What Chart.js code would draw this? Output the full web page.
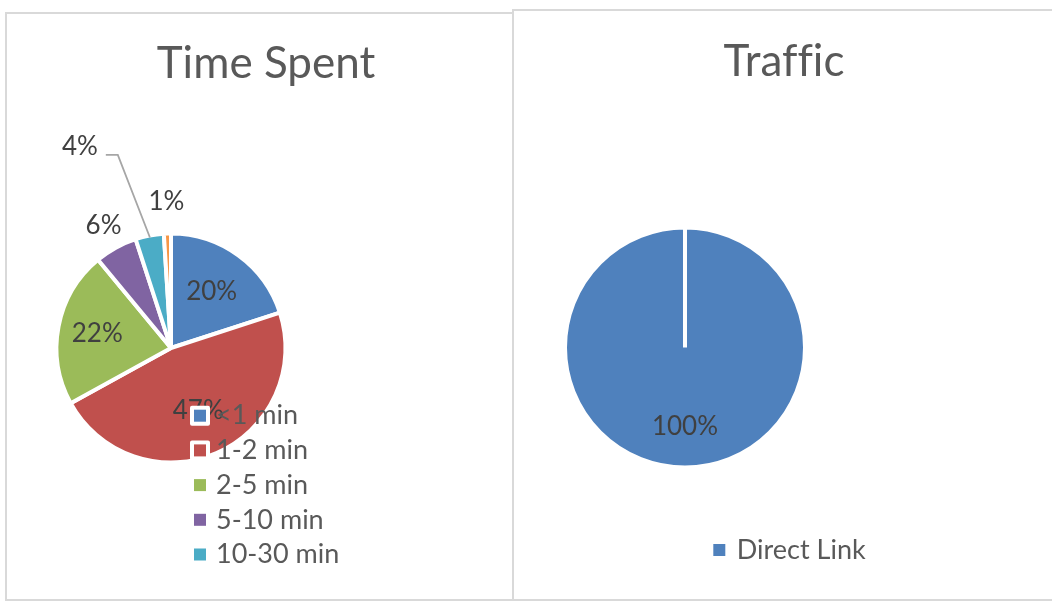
<!DOCTYPE html>
<html>
<head>
<meta charset="utf-8">
<script src="https://cdn.jsdelivr.net/npm/chart.js@4.4.0/dist/chart.umd.min.js"></script>
<style>
  html, body { margin: 0; padding: 0; background: #fff; }
  body { width: 1052px; height: 602px; position: relative; overflow: hidden; }
  .panel { position: absolute; border: 2px solid #d9d9d9; box-sizing: border-box; background: #fff; }
  #trafficPanel { left: 512px; top: 9px; width: 545px; height: 592px; }
  #timePanel { left: 5px; top: 12px; width: 509px; height: 589px; }
  .panel canvas { position: absolute; left: 0; top: 0; }
</style>
</head>
<body>
<div class="panel" id="trafficPanel"><canvas id="trafficCanvas" width="538" height="588"></canvas></div>
<div class="panel" id="timePanel"><canvas id="timeCanvas" width="505" height="585"></canvas></div>

<script>
// Time Spent
const timeLabels = ['<1 min', '1-2 min', '2-5 min', '5-10 min', '10-30 min', '>30 min'];
const timeValues = [20, 47, 22, 6, 4, 1];
const timeColors = ['#4f81bd', '#c0504d', '#9bbb59', '#8064a2', '#4bacc6', '#f79646'];

// Traffic
const trafficLabels = ['Direct Link'];
const trafficValues = [100];
const trafficColors = ['#4f81bd'];

const FONT = 'Lato, "Open Sans", sans-serif';

// labels, title and legend drawn the Excel way (legend may sit over the pie)
const pieText = {
    id: 'pieText',
    afterDatasetsDraw(chart, args, opts) {
        const ctx = chart.ctx;
        const meta = chart.getDatasetMeta(0);
        const values = chart.data.datasets[0].data;
        const total = values.reduce((a, b) => a + b, 0);

        ctx.save();
        ctx.font = `${opts.labelSize}px ${FONT}`;
        ctx.fillStyle = '#404040';
        meta.data.forEach((arc, i) => {
            const { x, y, startAngle, endAngle, outerRadius } =
                arc.getProps(['x', 'y', 'startAngle', 'endAngle', 'outerRadius'], true);
            const r = outerRadius - 2;
            const mid = (startAngle + endAngle) / 2;
            const text = Math.round(values[i] / total * 100) + '%';
            const lead = opts.leaders && opts.leaders[i];

            if (lead) {
                const a = mid + lead.shift * Math.PI / 180;
                const ex = x + Math.cos(mid) * r;
                const ey = y + Math.sin(mid) * r;
                const bx = x + Math.cos(a) * r * lead.radius;
                const by = y + Math.sin(a) * r * lead.radius;
                ctx.beginPath();
                ctx.moveTo(ex, ey);
                ctx.lineTo(bx, by);
                ctx.lineTo(bx - lead.tail, by);
                ctx.strokeStyle = '#a6a6a6';
                ctx.lineWidth = 1.8;
                ctx.stroke();
                ctx.textAlign = 'right';
                ctx.textBaseline = 'alphabetic';
                ctx.fillText(text, bx - lead.tail - 8, by);
            } else {
                const f = opts.radius[i];
                ctx.textAlign = 'center';
                ctx.textBaseline = 'middle';
                ctx.fillText(text, x + Math.cos(mid) * r * f, y + Math.sin(mid) * r * f);
            }
        });
        ctx.restore();
    },
    afterDraw(chart, args, opts) {
        const ctx = chart.ctx;
        const colors = chart.data.datasets[0].backgroundColor;
        const labels = chart.data.labels;
        const lg = opts.legend;

        ctx.save();
        // title (tiny letter spacing keeps the "ffi" from turning into a ligature)
        ctx.font = `${opts.titleSize}px ${FONT}`;
        ctx.letterSpacing = '0.01px';
        ctx.fillStyle = '#595959';
        ctx.textAlign = 'center';
        ctx.textBaseline = 'middle';
        ctx.fillText(opts.title, opts.titleX, opts.titleY);
        ctx.letterSpacing = '0px';

        // legend
        ctx.font = `${lg.size}px ${FONT}`;
        ctx.textAlign = 'left';
        const marker = (cx, cy, color) => {
            ctx.fillStyle = '#ffffff';
            ctx.strokeStyle = '#ffffff';
            ctx.lineWidth = 4;
            ctx.lineJoin = 'round';
            ctx.beginPath();
            ctx.rect(cx - 8, cy - 8, 16, 16);
            ctx.fill();
            ctx.stroke();
            ctx.fillStyle = color;
            ctx.fillRect(cx - 6, cy - 6, 12, 12);
        };

        if (lg.layout === 'column') {
            labels.forEach((label, i) => {
                const cy = lg.y + i * lg.step;
                if (cy + lg.size / 2 > chart.height) return; // no room left, Excel cuts it
                marker(lg.x, cy, colors[i]);
                ctx.fillStyle = '#595959';
                ctx.fillText(label, lg.x + lg.gap, cy);
            });
        } else {
            const w = labels.map(l => 6 + lg.gap + ctx.measureText(l).width);
            let cx = lg.x - w.reduce((a, b) => a + b, 0) / 2 + 6;
            labels.forEach((label, i) => {
                marker(cx, lg.y, colors[i]);
                ctx.fillStyle = '#595959';
                ctx.fillText(label, cx + lg.gap, lg.y);
                cx += w[i] + 20;
            });
        }
        ctx.restore();
    }
};

const baseOptions = {
    responsive: false,
    animation: false,
    events: [],
};

// Time Spent pie
new Chart(document.getElementById('timeCanvas'), {
    type: 'pie',
    data: {
        labels: timeLabels,
        datasets: [{
            data: timeValues,
            backgroundColor: timeColors,
            borderColor: '#ffffff',
            borderWidth: 4,
            radius: 114.5
        }]
    },
    options: {
        ...baseOptions,
        layout: { padding: { left: 0, right: 177, top: 100, bottom: 17 } },
        plugins: {
            legend: { display: false },
            tooltip: { enabled: false },
            pieText: {
                title: 'Time Spent',
                titleSize: 44,
                titleX: 259,
                titleY: 50,
                labelSize: 26,
                radius: [0.615, 0.61, 0.667, 1.244, 1, 1.30],
                leaders: { 4: { radius: 1.78, shift: -4.6, tail: 12 } },
                legend: { layout: 'column', x: 193, y: 401.7, step: 34.7, gap: 16, size: 27 }
            }
        }
    },
    plugins: [pieText]
});

// Traffic pie
new Chart(document.getElementById('trafficCanvas'), {
    type: 'pie',
    data: {
        labels: trafficLabels,
        datasets: [{
            data: trafficValues,
            backgroundColor: trafficColors,
            borderColor: '#ffffff',
            borderWidth: 4,
            radius: 120
        }]
    },
    options: {
        ...baseOptions,
        layout: { padding: { left: 0, right: 196, top: 100, bottom: 15 } },
        plugins: {
            legend: { display: false },
            tooltip: { enabled: false },
            pieText: {
                title: 'Traffic',
                titleSize: 44,
                titleX: 270,
                titleY: 50.5,
                labelSize: 26,
                radius: [0.67],
                legend: { layout: 'row', x: 275.5, y: 539, gap: 17.5, size: 27 }
            }
        }
    },
    plugins: [pieText]
});
</script>
</body>
</html>
